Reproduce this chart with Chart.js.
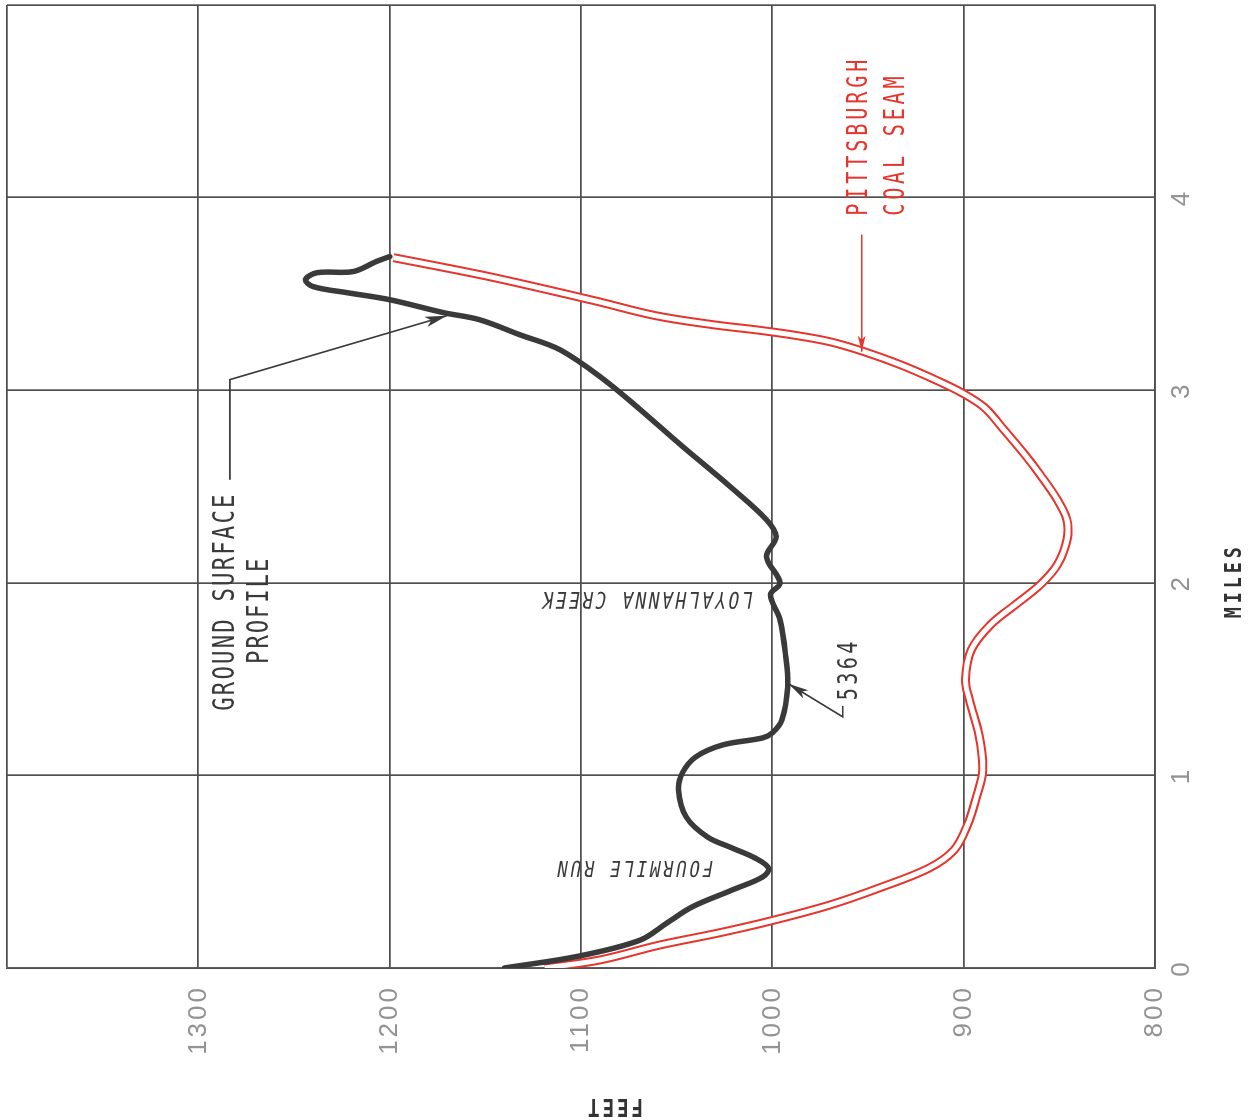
<!DOCTYPE html>
<html>
<head>
<meta charset="utf-8">
<script src="https://cdn.jsdelivr.net/npm/chart.js@4/dist/chart.umd.min.js"></script>
<style>
  html, body { margin: 0; padding: 0; background: #fff; overflow: hidden; width: 1260px; height: 1120px; }
  /* The profile is drafted with miles running across and elevation up the page,
     then the sheet is turned a quarter-turn counter-clockwise. */
  #sheet { position: absolute; left: 0; top: 0; width: 1120px; height: 1260px;
           transform-origin: 0 0; transform: translateY(1120px) rotate(-90deg); }
  canvas { display: block; }
</style>
</head>
<body>
<div id="sheet"><canvas id="profile" width="1120" height="1260"></canvas></div>
<script>
// Axis ticks
const mileTicks = [0, 1, 2, 3, 4, 5];
const mileTickLabels = ['0', '1', '2', '3', '4', ''];
const feetTicks = [800, 900, 1000, 1100, 1200, 1300, 1400];
const feetTickLabels = ['800', '900', '1000', '1100', '1200', '1300', ''];

// Ground surface profile (distance in miles, elevation in feet)
const groundMiles = [0, 0.062, 0.145, 0.234, 0.317, 0.405, 0.473, 0.519, 0.571, 0.623, 0.681, 0.784,
  0.925, 1.013, 1.096, 1.158, 1.195, 1.221, 1.288, 1.46, 1.616, 1.808, 1.938, 2.0, 2.135, 2.239,
  2.327, 2.499, 2.717, 2.899, 3.055, 3.21, 3.288, 3.366, 3.403, 3.47, 3.506, 3.538, 3.574, 3.61,
  3.616, 3.668, 3.694];
const groundFeet = [1140, 1101, 1069, 1055, 1042, 1021, 1005, 1002, 1009, 1021, 1034, 1045,
  1049, 1047, 1040, 1026, 1005, 1000, 995, 992, 993, 996, 1001, 996, 1003, 998,
  1003, 1022, 1048, 1069, 1088, 1111, 1132, 1153, 1172, 1200, 1222, 1240, 1244, 1238,
  1219, 1207, 1200];

// Pittsburgh coal seam (distance in miles, elevation in feet)
const seamMiles = [0, 0.042, 0.119, 0.182, 0.244, 0.327, 0.416, 0.519, 0.613, 0.743, 0.899, 1.029,
  1.21, 1.392, 1.496, 1.652, 1.782, 1.886, 1.99, 2.094, 2.223, 2.327, 2.431, 2.561, 2.665, 2.795,
  2.909, 2.987, 3.055, 3.132, 3.2, 3.252, 3.288, 3.314, 3.34, 3.387, 3.46, 3.532, 3.59, 3.642, 3.688];
const seamFeet = [1119, 1090, 1059, 1028, 1001, 970, 944, 918, 905, 898, 893, 890,
  892, 897, 899, 896, 886, 873, 860, 851, 846, 846, 851, 860, 868, 879,
  889, 901, 915, 933, 952, 970, 990, 1009, 1031, 1061, 1091, 1122, 1148, 1174, 1198];

const INK = '#3a3a3a';
const RED = '#e5352c';
const GRID = '#4f4f4f';
const TICK = '#939393';
const LETTERING = "'DejaVu Sans Mono','Liberation Mono',monospace";
const NUMERALS = "'Liberation Sans','DejaVu Sans',sans-serif";

const toPoints = (xs, ys) => xs.map((x, i) => ({ x, y: ys[i] }));

// Hand-lettered notes, anchored in miles / feet
const notes = [
  { text: 'GROUND SURFACE', mi: 1.33, ft: 1285.6, align: 'left', size: 31, pitch: 15.6, squeeze: 0.72, color: INK },
  { text: 'PROFILE', mi: 1.574, ft: 1267.8, align: 'left', size: 31, pitch: 15.3, squeeze: 0.72, color: INK },
  { text: '5364', mi: 1.382, ft: 959.6, align: 'left', size: 27, pitch: 15.5, squeeze: 0.75, color: INK },
  { text: 'PITTSBURGH', mi: 3.896, ft: 954.3, align: 'left', size: 28, pitch: 16, squeeze: 0.72, color: RED },
  { text: 'COAL SEAM', mi: 3.896, ft: 935, align: 'left', size: 28, pitch: 15.9, squeeze: 0.72, color: RED },
  { text: 'LOYALHANNA CREEK', mi: 1.922, ft: 1065, align: 'center', size: 23, pitch: 13.3, squeeze: 0.78, slant: 0.22, rot: -Math.PI / 2, color: INK },
  { text: 'FOURMILE RUN', mi: 0.525, ft: 1071.4, align: 'center', size: 22, pitch: 13.2, squeeze: 0.78, slant: 0.22, rot: -Math.PI / 2, color: INK }
];

// Leader lines; the last point carries the arrowhead
const leaders = [
  { pts: [[2.535, 1283.5], [3.055, 1283.5], [3.387, 1170]], color: INK, width: 1.6, head: 22 },
  { pts: [[1.361, 963.2], [1.304, 963.2], [1.475, 991.4]], color: INK, width: 1.6, head: 20 },
  { pts: [[3.808, 953.3], [3.2, 953.3]], color: RED, width: 1.6, head: 16 }
];

function letters(ctx, text, x, y, o) {
  ctx.save();
  ctx.translate(x, y);
  if (o.rot) ctx.rotate(o.rot);
  ctx.letterSpacing = '0px';
  ctx.font = `${o.weight || 'normal'} ${o.size}px ${LETTERING}`;
  ctx.fillStyle = o.color;
  ctx.textAlign = 'center';
  ctx.textBaseline = 'middle';
  const n = text.length;
  const w = n * o.pitch;
  const start = o.align === 'center' ? -w / 2 : (o.align === 'right' ? -w : 0);
  for (let i = 0; i < n; i++) {
    const ch = text[i];
    if (ch === ' ') continue;
    ctx.save();
    ctx.translate(start + (i + 0.5) * o.pitch, 0);
    ctx.scale(o.squeeze || 1, 1);
    if (o.slant) ctx.transform(1, 0, -o.slant, 1, 0, 0);
    ctx.fillText(ch, 0, 0);
    ctx.restore();
  }
  ctx.restore();
}

function arrowLine(ctx, pts, color, width, head) {
  ctx.save();
  ctx.strokeStyle = color;
  ctx.fillStyle = color;
  ctx.lineWidth = width;
  ctx.lineJoin = 'miter';
  ctx.beginPath();
  pts.forEach((p, i) => (i ? ctx.lineTo(p[0], p[1]) : ctx.moveTo(p[0], p[1])));
  ctx.stroke();
  const [ax, ay] = pts[pts.length - 2];
  const [bx, by] = pts[pts.length - 1];
  const ang = Math.atan2(by - ay, bx - ax);
  ctx.translate(bx, by);
  ctx.rotate(ang);
  ctx.beginPath();
  ctx.moveTo(0, 0);
  ctx.lineTo(-head, -head * 0.24);
  ctx.lineTo(-head * 0.75, 0);
  ctx.lineTo(-head, head * 0.24);
  ctx.closePath();
  ctx.fill();
  ctx.restore();
}

const lettering = {
  id: 'lettering',
  beforeDraw(chart) {
    chart.ctx.letterSpacing = '3px';
  },
  afterDraw(chart) {
    const { ctx, chartArea } = chart;
    const xs = chart.scales.x, ys = chart.scales.y;
    leaders.forEach(l => {
      const pts = l.pts.map(([mi, ft]) => [xs.getPixelForValue(mi), ys.getPixelForValue(ft)]);
      arrowLine(ctx, pts, l.color, l.width, l.head);
    });
    notes.forEach(n => {
      letters(ctx, n.text, xs.getPixelForValue(n.mi), ys.getPixelForValue(n.ft), n);
    });
    // Axis titles
    letters(ctx, 'MILES', xs.getPixelForValue(2), chartArea.bottom + 80,
      { align: 'center', size: 23, pitch: 15, squeeze: 0.8, weight: 'bold', color: '#333' });
    letters(ctx, 'FEET', 15, ys.getPixelForValue(1082),
      { align: 'center', size: 24, pitch: 14.5, squeeze: 0.8, weight: 'bold', color: '#333', rot: -Math.PI / 2 });
  }
};

new Chart(document.getElementById('profile'), {
  type: 'line',
  data: {
    datasets: [
      { label: 'Ground surface profile', data: toPoints(groundMiles, groundFeet),
        borderColor: INK, borderWidth: 5.5, borderCapStyle: 'round', borderJoinStyle: 'round',
        tension: 0.35, pointRadius: 0, fill: false, order: 0 },
      { label: 'Pittsburgh coal seam (inner)', data: toPoints(seamMiles, seamFeet),
        borderColor: '#ffffff', borderWidth: 5, borderCapStyle: 'butt',
        tension: 0.35, pointRadius: 0, fill: false, order: 1 },
      { label: 'Pittsburgh coal seam', data: toPoints(seamMiles, seamFeet),
        borderColor: RED, borderWidth: 9, borderCapStyle: 'butt',
        tension: 0.35, pointRadius: 0, fill: false, order: 2 }
    ]
  },
  options: {
    responsive: false,
    animation: false,
    devicePixelRatio: 1,
    events: [],
    layout: { padding: { top: 7, right: 5, bottom: 0, left: 0 } },
    plugins: { legend: { display: false }, tooltip: { enabled: false } },
    scales: {
      x: {
        type: 'linear', min: 0, max: 5,
        afterBuildTicks: s => { s.ticks = mileTicks.map(v => ({ value: v })); },
        afterFit: s => { s.height = 105; s.paddingLeft = 0; s.paddingRight = 0; },
        grid: { color: GRID, lineWidth: 1.7, drawTicks: false },
        border: { color: GRID, width: 1.7 },
        ticks: {
          padding: 11, color: TICK, maxRotation: 0,
          font: { family: NUMERALS, size: 26 },
          callback: (v, i) => mileTickLabels[i]
        },
        title: { display: false }
      },
      y: {
        type: 'linear', min: 800, max: 1400,
        afterBuildTicks: s => { s.ticks = feetTicks.map(v => ({ value: v })); },
        afterFit: s => { s.width = 152; s.paddingTop = 0; s.paddingBottom = 0; },
        grid: { color: GRID, lineWidth: 1.7, drawTicks: false },
        border: { color: GRID, width: 1.7 },
        ticks: {
          padding: 17, color: TICK,
          font: { family: NUMERALS, size: 26 },
          callback: (v, i) => feetTickLabels[i]
        },
        title: { display: false }
      }
    }
  },
  plugins: [lettering]
});
</script>
</body>
</html>
